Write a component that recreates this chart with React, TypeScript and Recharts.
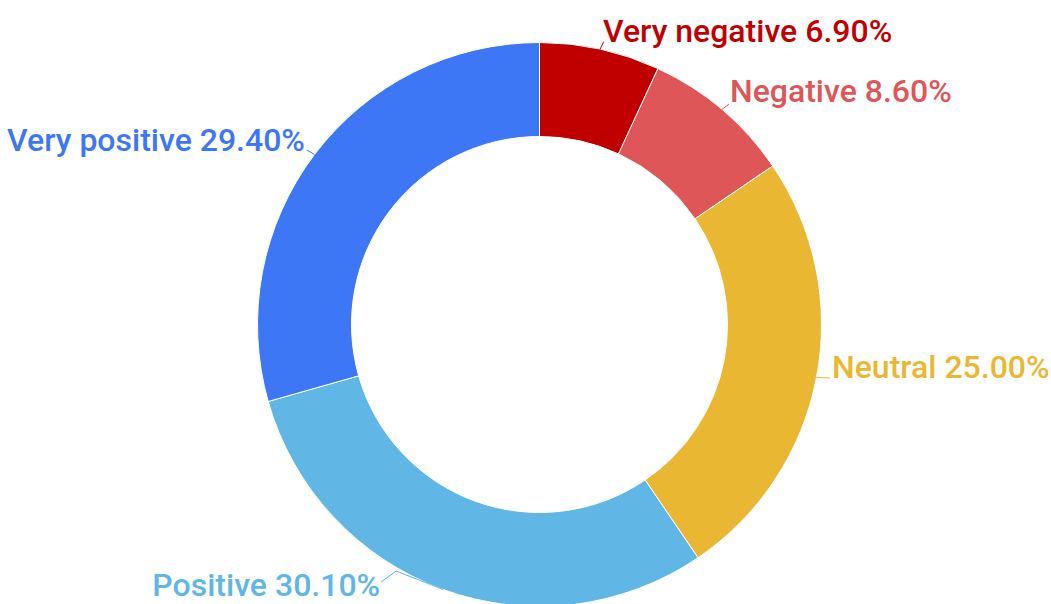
import React from 'react';
import { PieChart, Pie, Cell } from 'recharts';

const categories = ['Very negative', 'Negative', 'Neutral', 'Positive', 'Very positive'];
const shares = [6.9, 8.6, 25.0, 30.1, 29.4];
const colors = ['#c00000', '#de5657', '#e9b732', '#60b6e4', '#3d77f5'];

// label layout (offsets from the slice's outer mid point)
const labelLayout = [
  { text: [2.8, -7.1], line: [[3.5, -7.4]], anchor: 'start' },
  { text: [8, -7.5], line: [[7, -5.5]], anchor: 'start' },
  { text: [15.5, 0.7], line: [[13.5, 0.7]], anchor: 'start' },
  { text: [-63, 6.5], line: [[-47, -18.5], [-62, -7.5]], anchor: 'end' },
  { text: [-9.6, -3.7], line: [[-7.6, -4.4]], anchor: 'end' },
];

const data = categories.map((name, i) => ({ name, value: shares[i] }));

const RAD = Math.PI / 180;

const renderLabel = (props: any) => {
  const { cx, cy, midAngle, outerRadius, index, value, name } = props;
  const ox = cx + outerRadius * Math.cos(-midAngle * RAD);
  const oy = cy + outerRadius * Math.sin(-midAngle * RAD);
  const l = labelLayout[index];
  const pts = [[ox, oy], ...l.line.map(([dx, dy]) => [ox + dx, oy + dy])];
  return (
    <g key={`lbl-${index}`}>
      <polyline
        points={pts.map((p) => p.join(',')).join(' ')}
        fill="none"
        stroke={colors[index]}
        strokeWidth={1}
      />
      <text
        x={ox + l.text[0]}
        y={oy + l.text[1]}
        textAnchor={l.anchor as any}
        fill={colors[index]}
        fontFamily="Roboto"
        fontWeight={500}
        fontSize={32}
      >
        {`${name} ${Number(value).toFixed(2)}%`}
      </text>
    </g>
  );
};

export default function App() {
  return (
    <div style={{ position: 'absolute', left: 0, top: 0, width: 1051, height: 604, background: '#fff' }}>
      <PieChart width={1051} height={604} margin={{ top: 0, right: 0, bottom: 0, left: 0 }}>
        <Pie
          data={data}
          dataKey="value"
          nameKey="name"
          cx={539.5}
          cy={324.5}
          innerRadius={188}
          outerRadius={282}
          startAngle={90}
          endAngle={-270}
          stroke="#ffffff"
          strokeWidth={1}
          label={renderLabel}
          labelLine={false}
          isAnimationActive={false}
        >
          {data.map((d, i) => (
            <Cell key={d.name} fill={colors[i]} />
          ))}
        </Pie>
      </PieChart>
    </div>
  );
}
